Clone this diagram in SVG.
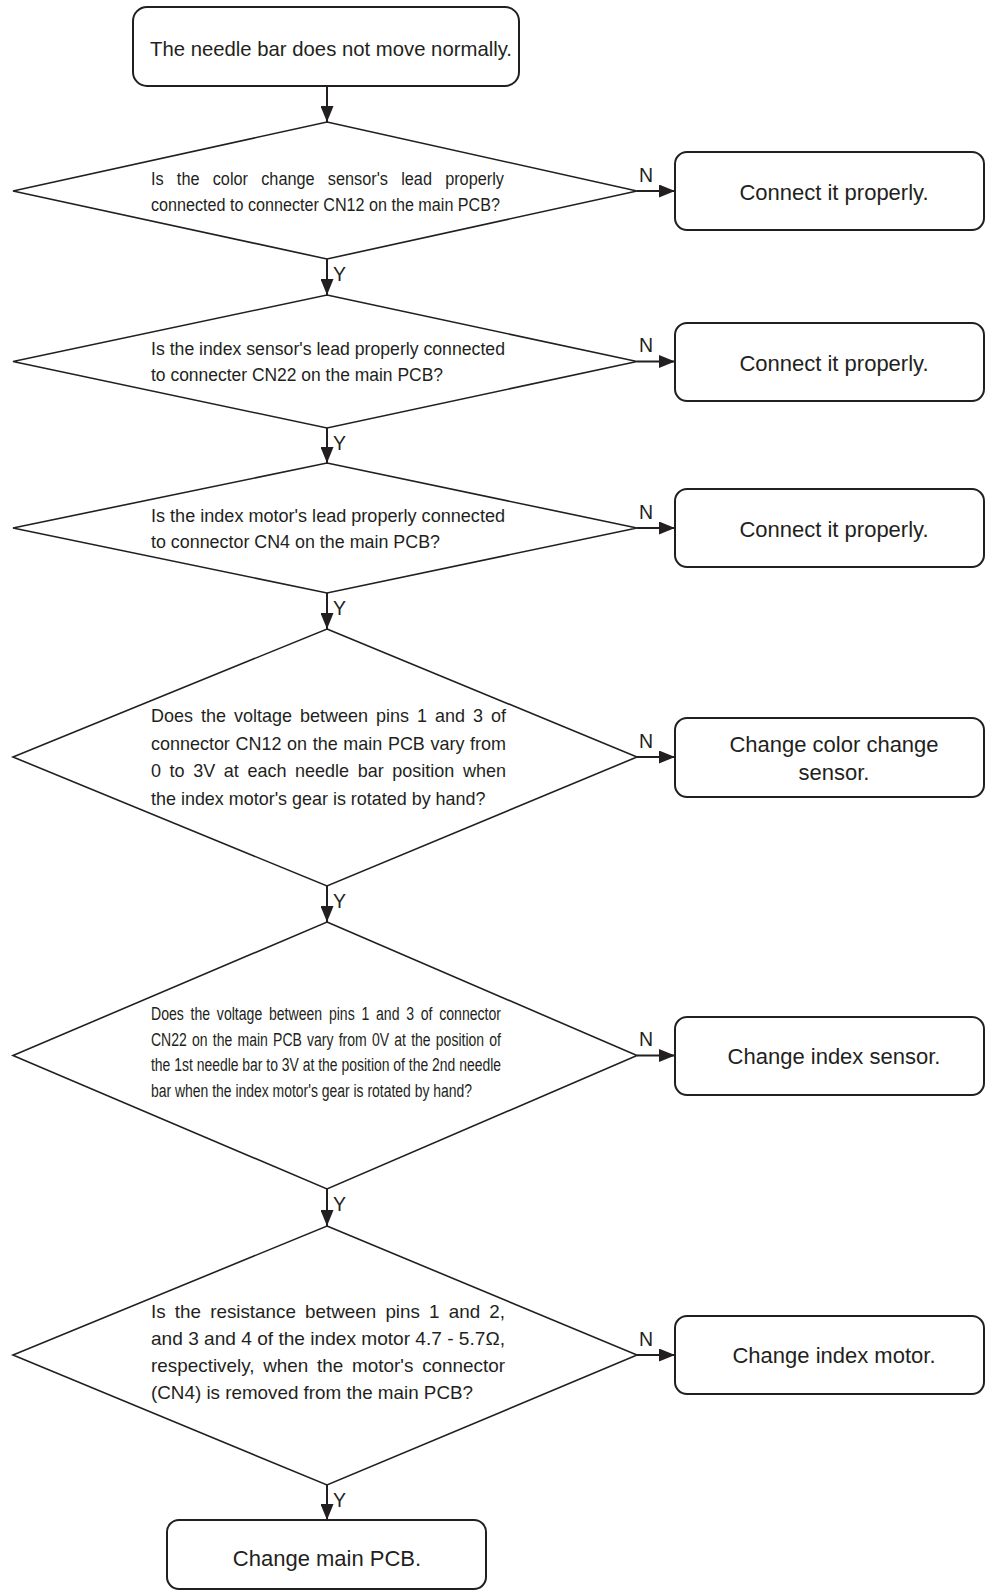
<svg xmlns="http://www.w3.org/2000/svg" width="986" height="1593" viewBox="0 0 986 1593">
<style>
.box{fill:#fff;stroke:#231f20;stroke-width:2}
.dia{fill:#fff;stroke:#231f20;stroke-width:1.6}
.t{font-family:"Liberation Sans",Arial,Helvetica,sans-serif;fill:#231f20}
.bt{font-size:22px;text-anchor:middle}
.lbl{font-size:19.5px}
.conn{stroke:#231f20;stroke-width:2;fill:none;marker-end:url(#ah)}
</style>
<defs>
<marker id="ah" markerUnits="userSpaceOnUse" markerWidth="16" markerHeight="13" refX="16" refY="6.5" orient="auto">
<path d="M0,0 L16,6.5 L0,13 z" fill="#231f20"/>
</marker>
</defs>
<rect width="986" height="1593" fill="#fff"/>

<g id="connectors">
<path class="conn" d="M327,87 V122"/>
<path class="conn" d="M327,259 V295"/>
<path class="conn" d="M327,428 V463"/>
<path class="conn" d="M327,593 V629"/>
<path class="conn" d="M327,886 V922"/>
<path class="conn" d="M327,1189 V1226"/>
<path class="conn" d="M327,1485 V1520"/>
<path class="conn" d="M637,191 H675"/>
<path class="conn" d="M637,361.5 H675"/>
<path class="conn" d="M637,528 H675"/>
<path class="conn" d="M637,757 H675"/>
<path class="conn" d="M637,1055.5 H675"/>
<path class="conn" d="M637,1355 H675"/>
<g class="t lbl">
<text x="333" y="281">Y</text>
<text x="333" y="450">Y</text>
<text x="333" y="615">Y</text>
<text x="333" y="908">Y</text>
<text x="333" y="1211">Y</text>
<text x="333" y="1507">Y</text>
<text x="639" y="182">N</text>
<text x="639" y="352">N</text>
<text x="639" y="519">N</text>
<text x="639" y="748">N</text>
<text x="639" y="1046">N</text>
<text x="639" y="1346">N</text>
</g>
</g>

<g id="start">
<rect class="box" x="133" y="7" width="386" height="79" rx="14"/>
<text class="t" x="150" y="56" font-size="21" textLength="362" lengthAdjust="spacingAndGlyphs">The needle bar does not move normally.</text>
</g>

<g id="d1">
<polygon class="dia" points="327,122 637,191 327,259 13,191"/>
<g class="t" font-size="17.5">
<text x="151" y="185" style="word-spacing:9.3px" textLength="353" lengthAdjust="spacingAndGlyphs">Is the color change sensor's lead properly</text>
<text x="151" y="210.5" textLength="349" lengthAdjust="spacingAndGlyphs">connected to connecter CN12 on the main PCB?</text>
</g>
</g>
<g id="b1">
<rect class="box" x="675" y="152" width="309" height="78" rx="12"/>
<text class="t bt" x="834" y="200">Connect it properly.</text>
</g>

<g id="d2">
<polygon class="dia" points="327,295 637,361.5 327,428 13,361.5"/>
<g class="t" font-size="18">
<text x="151" y="355" textLength="354" lengthAdjust="spacingAndGlyphs">Is the index sensor's lead properly connected</text>
<text x="151" y="380.5" textLength="292" lengthAdjust="spacingAndGlyphs">to connecter CN22 on the main PCB?</text>
</g>
</g>
<g id="b2">
<rect class="box" x="675" y="323" width="309" height="78" rx="12"/>
<text class="t bt" x="834" y="371">Connect it properly.</text>
</g>

<g id="d3">
<polygon class="dia" points="327,463 637,528 327,593 13,528"/>
<g class="t" font-size="18">
<text x="151" y="522" textLength="354" lengthAdjust="spacingAndGlyphs">Is the index motor's lead properly connected</text>
<text x="151" y="547.5" textLength="289" lengthAdjust="spacingAndGlyphs">to connector CN4 on the main PCB?</text>
</g>
</g>
<g id="b3">
<rect class="box" x="675" y="489" width="309" height="78" rx="12"/>
<text class="t bt" x="834" y="537">Connect it properly.</text>
</g>

<g id="d4">
<polygon class="dia" points="327,629 637,757 327,886 13,757"/>
<g class="t" font-size="18.5">
<text x="151" y="722" style="word-spacing:3.1px" textLength="355" lengthAdjust="spacingAndGlyphs">Does the voltage between pins 1 and 3 of</text>
<text x="151" y="749.5" style="word-spacing:0.7px" textLength="355" lengthAdjust="spacingAndGlyphs">connector CN12 on the main PCB vary from</text>
<text x="151" y="777" style="word-spacing:3.7px" textLength="355" lengthAdjust="spacingAndGlyphs">0 to 3V at each needle bar position when</text>
<text x="151" y="804.5" textLength="334.5" lengthAdjust="spacingAndGlyphs">the index motor's gear is rotated by hand?</text>
</g>
</g>
<g id="b4">
<rect class="box" x="675" y="718" width="309" height="79" rx="12"/>
<text class="t bt" x="834" y="752">Change color change</text>
<text class="t bt" x="834" y="780">sensor.</text>
</g>

<g id="d5">
<polygon class="dia" points="327,922 637,1055.5 327,1189 13,1055.5"/>
<g class="t" font-size="18">
<text x="151" y="1020" style="word-spacing:3.6px" textLength="350" lengthAdjust="spacingAndGlyphs">Does the voltage between pins 1 and 3 of connector</text>
<text x="151" y="1045.7" style="word-spacing:1.7px" textLength="350" lengthAdjust="spacingAndGlyphs">CN22 on the main PCB vary from 0V at the position of</text>
<text x="151" y="1071.4" textLength="350" lengthAdjust="spacingAndGlyphs">the 1st needle bar to 3V at the position of the 2nd needle</text>
<text x="151" y="1097" textLength="321" lengthAdjust="spacingAndGlyphs">bar when the index motor's gear is rotated by hand?</text>
</g>
</g>
<g id="b5">
<rect class="box" x="675" y="1017" width="309" height="78" rx="12"/>
<text class="t bt" x="834" y="1064">Change index sensor.</text>
</g>

<g id="d6">
<polygon class="dia" points="327,1226 637,1355 327,1485 13,1355"/>
<g class="t" font-size="18.5">
<text x="151" y="1318" style="word-spacing:3.9px" textLength="354" lengthAdjust="spacingAndGlyphs">Is the resistance between pins 1 and 2,</text>
<text x="151" y="1345" textLength="354" lengthAdjust="spacingAndGlyphs">and 3 and 4 of the index motor 4.7 - 5.7Ω,</text>
<text x="151" y="1372" style="word-spacing:3.45px" textLength="354" lengthAdjust="spacingAndGlyphs">respectively, when the motor's connector</text>
<text x="151" y="1399" textLength="322" lengthAdjust="spacingAndGlyphs">(CN4) is removed from the main PCB?</text>
</g>
</g>
<g id="b6">
<rect class="box" x="675" y="1316" width="309" height="78" rx="12"/>
<text class="t bt" x="834" y="1363">Change index motor.</text>
</g>

<g id="end">
<rect class="box" x="167" y="1520" width="319" height="69" rx="12"/>
<text class="t bt" x="327" y="1566">Change main PCB.</text>
</g>
</svg>
